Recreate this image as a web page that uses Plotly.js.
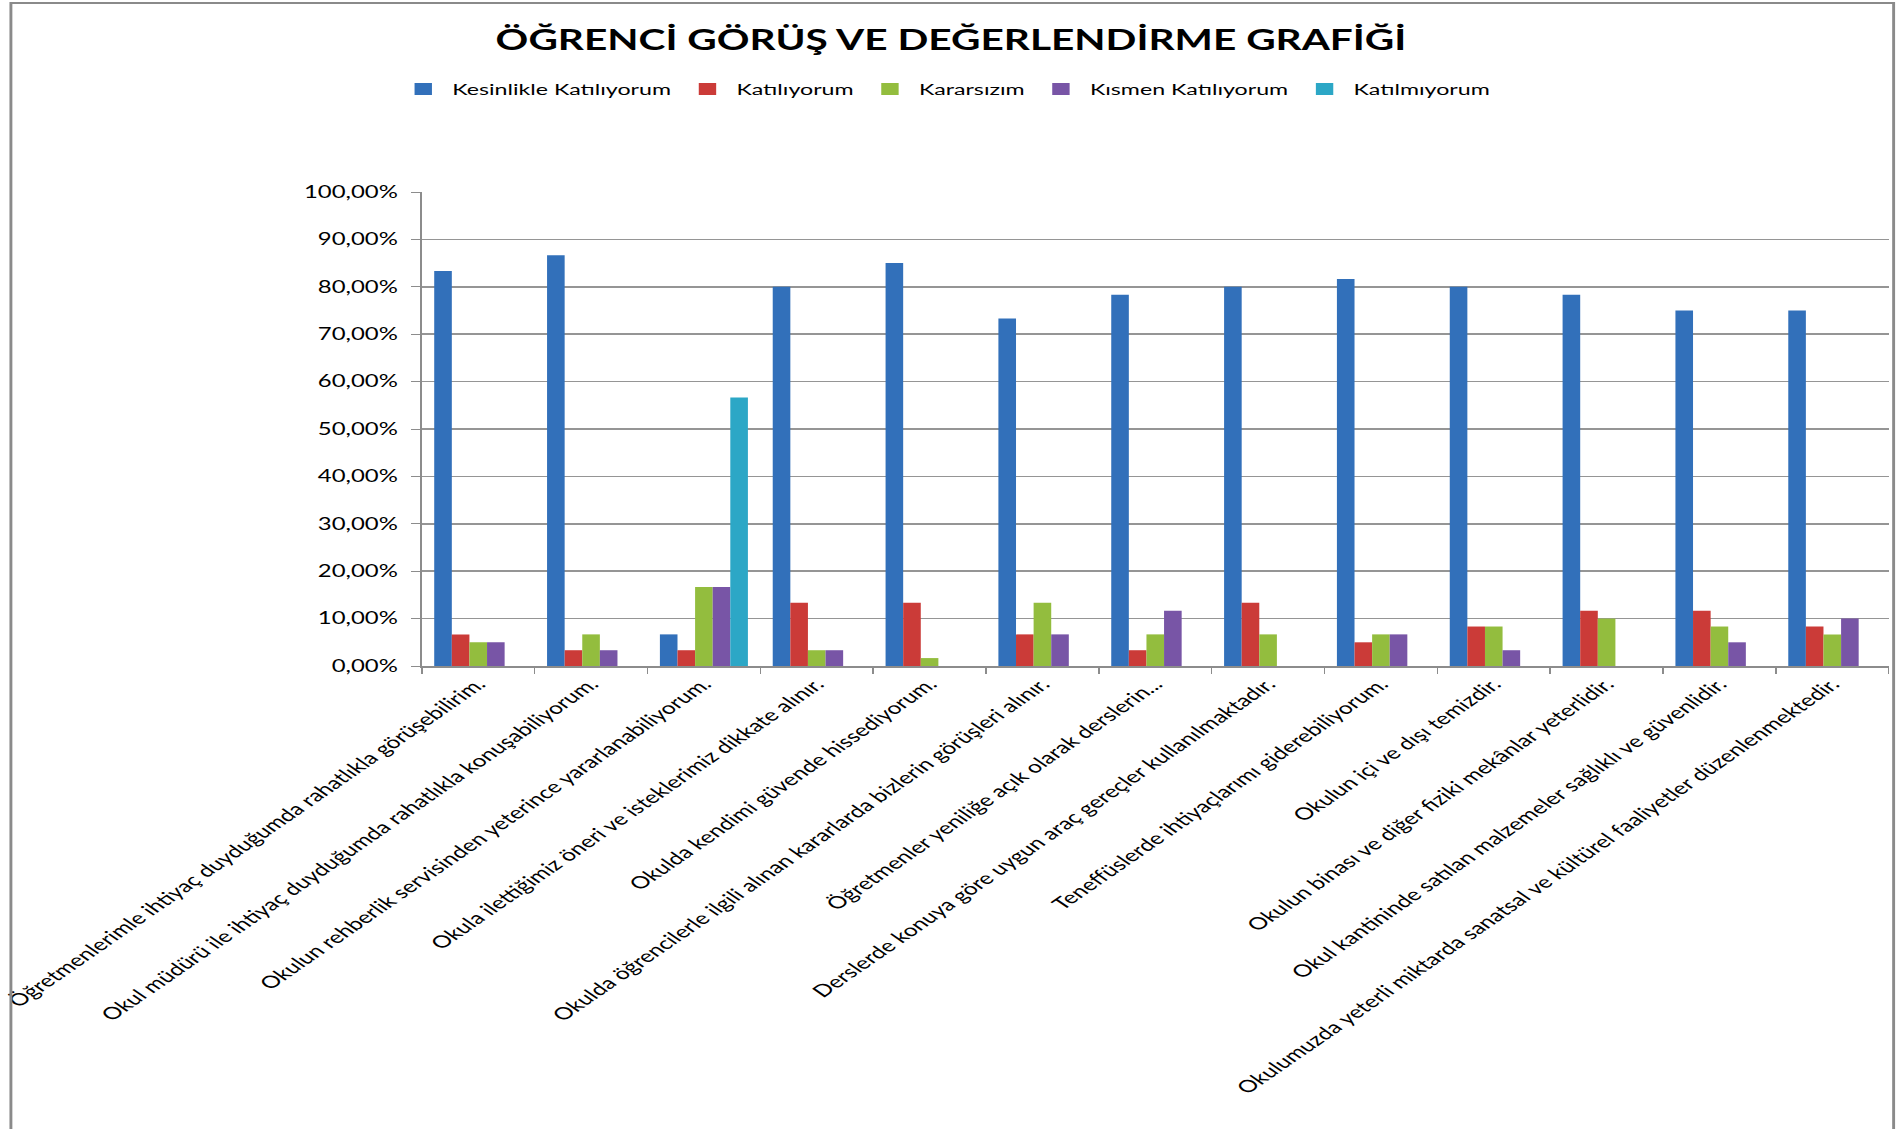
<!DOCTYPE html>
<html>
<head>
<meta charset="utf-8">
<script src="https://cdn.plot.ly/plotly-3.0.1.min.js"></script>
<style>
  html, body { margin: 0; padding: 0; background: #ffffff; overflow: hidden; }
  #wrap { width: 1896px; height: 1129px; overflow: hidden; }
  #chart { width: 1308px; height: 1129px; transform: scaleX(1.4495); transform-origin: 0 0; }
</style>
</head>
<body>
<div id="wrap"><div id="chart"></div></div>
<script>
// ---- data ----
const categories = [
  "Öğretmenlerimle ihtiyaç duyduğumda rahatlıkla görüşebilirim.",
  "Okul müdürü ile ihtiyaç duyduğumda rahatlıkla konuşabiliyorum.",
  "Okulun rehberlik servisinden yeterince yararlanabiliyorum.",
  "Okula ilettiğimiz öneri ve isteklerimiz dikkate alınır.",
  "Okulda kendimi güvende hissediyorum.",
  "Okulda öğrencilerle ilgili alınan kararlarda bizlerin görüşleri alınır.",
  "Öğretmenler yeniliğe açık olarak derslerin...",
  "Derslerde konuya göre uygun araç gereçler kullanılmaktadır.",
  "Teneffüslerde ihtiyaçlarımı giderebiliyorum.",
  "Okulun içi ve dışı temizdir.",
  "Okulun binası ve diğer fiziki mekânlar yeterlidir.",
  "Okul kantininde satılan malzemeler sağlıklı ve güvenlidir.",
  "Okulumuzda yeterli miktarda sanatsal ve kültürel faaliyetler düzenlenmektedir."
];
const seriesNames = ["Kesinlikle Katılıyorum", "Katılıyorum", "Kararsızım", "Kısmen Katılıyorum", "Katılmıyorum"];
const kesinlikleKatiliyorum = [83.33, 86.67, 6.67, 80.00, 85.00, 73.33, 78.33, 80.00, 81.67, 80.00, 78.33, 75.00, 75.00];
const katiliyorum           = [6.67, 3.33, 3.33, 13.33, 13.33, 6.67, 3.33, 13.33, 5.00, 8.33, 11.67, 11.67, 8.33];
const kararsizim            = [5.00, 6.67, 16.67, 3.33, 1.67, 13.33, 6.67, 6.67, 6.67, 8.33, 10.00, 8.33, 6.67];
const kismenKatiliyorum     = [5.00, 3.33, 16.67, 3.33, 0, 6.67, 11.67, 0, 6.67, 3.33, 0, 5.00, 10.00];
const katilmiyorum          = [0, 0, 56.67, 0, 0, 0, 0, 0, 0, 0, 0, 0, 0];
const yTickValues = [0, 10, 20, 30, 40, 50, 60, 70, 80, 90, 100];
const yTickLabels = ["0,00%", "10,00%", "20,00%", "30,00%", "40,00%", "50,00%", "60,00%", "70,00%", "80,00%", "90,00%", "100,00%"];

const seriesValues = [kesinlikleKatiliyorum, katiliyorum, kararsizim, kismenKatiliyorum, katilmiyorum];
const seriesColors = ["#3270BA", "#CB3B38", "#93BD3E", "#7855A6", "#2CA7C6"];

const traces = seriesNames.map((name, i) => ({
  type: "bar",
  name: name,
  x: categories,
  y: seriesValues[i],
  marker: { color: seriesColors[i], line: { width: 0 } },
  hoverinfo: "x+y+name"
}));

const FONT = "Lato, 'Open Sans', sans-serif";
const W = 1308, H = 1129;
const L = 291.1, R = 4.8, T = 192, B = 463;
const pw = W - L - R, ph = H - T - B;
const px = v => (v - L) / pw;
const py = v => (H - B - v) / ph;

const layout = {
  width: W,
  height: H,
  margin: { l: L, r: R, t: T, b: B, pad: 0 },
  paper_bgcolor: "#ffffff",
  plot_bgcolor: "#ffffff",
  barmode: "group",
  bargap: 0.22,
  bargroupgap: 0,
  font: { family: FONT, size: 16, color: "#000000" },
  title: {
    text: "ÖĞRENCİ GÖRÜŞ VE DEĞERLENDİRME GRAFİĞİ",
    font: { family: FONT, size: 28, color: "#000000", weight: 700 },
    xref: "container", yref: "container",
    x: 0.5016, xanchor: "center",
    y: 1 - 40 / H, yanchor: "middle"
  },
  showlegend: true,
  legend: {
    orientation: "h",
    xref: "container", yref: "container",
    x: 272 / W, xanchor: "left",
    y: 1 - 89 / H, yanchor: "middle",
    font: { family: FONT, size: 16, color: "#000000" },
    itemwidth: 30,
    traceorder: "normal",
    bgcolor: "rgba(0,0,0,0)"
  },
  xaxis: {
    type: "category",
    tickangle: -45,
    ticks: "outside",
    tickson: "boundaries",
    ticklen: 6,
    tickcolor: "#8c8c8c",
    tickwidth: 1,
    showline: true,
    linecolor: "#8c8c8c",
    linewidth: 1.5,
    showgrid: false,
    tickfont: { family: FONT, size: 17, color: "#000000" },
    automargin: false,
    fixedrange: true
  },
  yaxis: {
    range: [0, 100],
    tickmode: "array",
    tickvals: yTickValues,
    ticktext: yTickLabels,
    ticks: "outside",
    ticklen: 6,
    tickcolor: "#8c8c8c",
    tickwidth: 1,
    showline: true,
    linecolor: "#8c8c8c",
    linewidth: 1.2,
    showgrid: true,
    gridcolor: "#959595",
    gridwidth: 1.6,
    zeroline: false,
    tickfont: { family: FONT, size: 16.5, color: "#000000" },
    ticklabelstandoff: 6,
    automargin: false,
    fixedrange: true
  },
  shapes: [
    {
      type: "rect", xref: "paper", yref: "paper",
      x0: px(7.6), x1: px(1306.6), y0: py(3), y1: py(1160),
      line: { color: "#8a8a8a", width: 2 },
      fillcolor: "rgba(0,0,0,0)",
      layer: "above"
    }
  ]
};

Plotly.newPlot("chart", traces, layout, { displayModeBar: false, staticPlot: true, responsive: false });
</script>
</body>
</html>
